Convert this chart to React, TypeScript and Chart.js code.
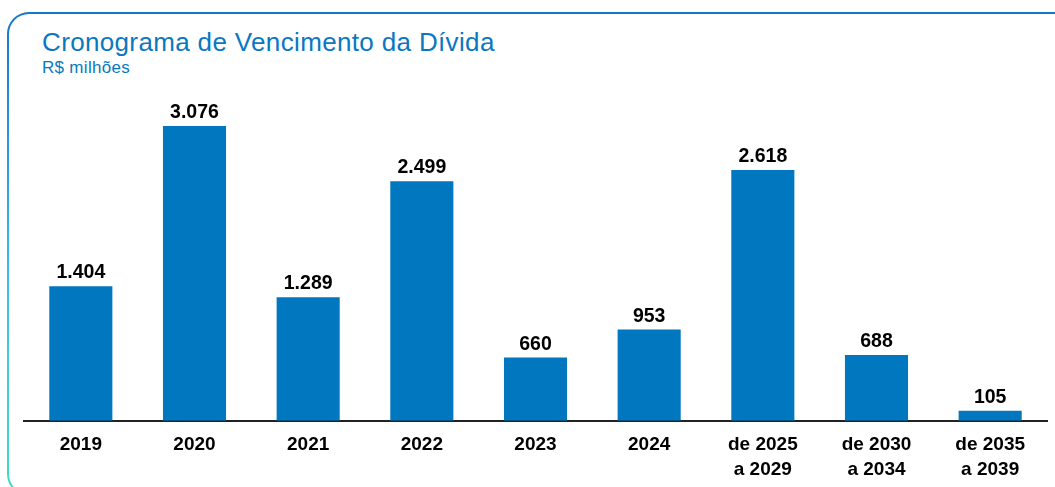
import React, { useEffect, useRef } from "react";
import { Chart, registerables } from "chart.js";

Chart.register(...registerables);

const categories: (string | string[])[] = [
  "2019",
  "2020",
  "2021",
  "2022",
  "2023",
  "2024",
  ["de 2025", "a 2029"],
  ["de 2030", "a 2034"],
  ["de 2035", "a 2039"],
];
const values: number[] = [1404, 3076, 1289, 2499, 660, 953, 2618, 688, 105];
const valueLabels: string[] = ["1.404", "3.076", "1.289", "2.499", "660", "953", "2.618", "688", "105"];

const TITLE = "Cronograma de Vencimento da Dívida";
const SUBTITLE = "R$ milhões";
const FONT = "'Liberation Sans', Arial, Helvetica, sans-serif";

const labelPlugin = {
  id: "valueLabels",
  afterDatasetsDraw(chart: any) {
    const ctx = chart.ctx;
    const meta = chart.getDatasetMeta(0);
    ctx.save();
    ctx.font = `bold 19.5px ${FONT}`;
    ctx.fillStyle = "#000000";
    ctx.textAlign = "center";
    ctx.textBaseline = "alphabetic";
    meta.data.forEach((bar: any, i: number) => {
      ctx.fillText(valueLabels[i], bar.x, bar.y - 8);
    });
    ctx.restore();
  },
};

export default function App() {
  const canvasRef = useRef<HTMLCanvasElement | null>(null);

  useEffect(() => {
    if (!canvasRef.current) return;
    const chart = new Chart(canvasRef.current, {
      type: "bar",
      data: {
        labels: categories,
        datasets: [
          {
            data: values,
            backgroundColor: "#0077BE",
            borderWidth: 0,
            barPercentage: 0.555,
            categoryPercentage: 1,
          },
        ],
      },
      options: {
        animation: false,
        responsive: false,
        maintainAspectRatio: false,
        layout: { padding: { left: 24, right: 8, top: 95, bottom: 15 } },
        plugins: {
          legend: { display: false },
          tooltip: { enabled: false },
          title: { display: false },
        },
        scales: {
          x: {
            grid: { display: false },
            border: { display: true, color: "#222222", width: 2 },
            ticks: {
              color: "#000000",
              padding: 3,
              maxRotation: 0,
              autoSkip: false,
              font: { family: FONT, size: 19, weight: "bold", lineHeight: 1.32 },
            },
          },
          y: {
            display: false,
            min: 0,
            max: 3400,
          },
        },
      },
      plugins: [labelPlugin],
    });
    return () => chart.destroy();
  }, []);

  return (
    <div
      style={{
        position: "fixed",
        left: 0,
        top: 0,
        width: 1055,
        height: 487,
        overflow: "hidden",
        background: "#ffffff",
      }}
    >
      <div
        style={{
          position: "absolute",
          left: 7,
          top: 12,
          width: 1080,
          height: 484,
          boxSizing: "border-box",
          borderRadius: 22,
          border: "2px solid transparent",
          background:
            "linear-gradient(#ffffff, #ffffff) padding-box, linear-gradient(180deg, #1677c4 0%, #2a9be0 30%, #3bbcf0 55%, #3fd0d8 80%, #3fdcc0 100%) border-box",
        }}
      />
      <div
        style={{
          position: "absolute",
          left: 42,
          top: 28,
          fontFamily: FONT,
          fontSize: 26,
          letterSpacing: "0.35px",
          color: "#0A78C0",
          whiteSpace: "nowrap",
          lineHeight: "28px",
        }}
      >
        {TITLE}
      </div>
      <div
        style={{
          position: "absolute",
          left: 42,
          top: 59,
          fontFamily: FONT,
          fontSize: 17,
          letterSpacing: "0.3px",
          color: "#0A78C0",
          whiteSpace: "nowrap",
          lineHeight: "18px",
        }}
      >
        {SUBTITLE}
      </div>
      <canvas
        ref={canvasRef}
        width={1055}
        height={500}
        style={{ position: "absolute", left: 0, top: 0, width: 1055, height: 500 }}
      />
    </div>
  );
}
